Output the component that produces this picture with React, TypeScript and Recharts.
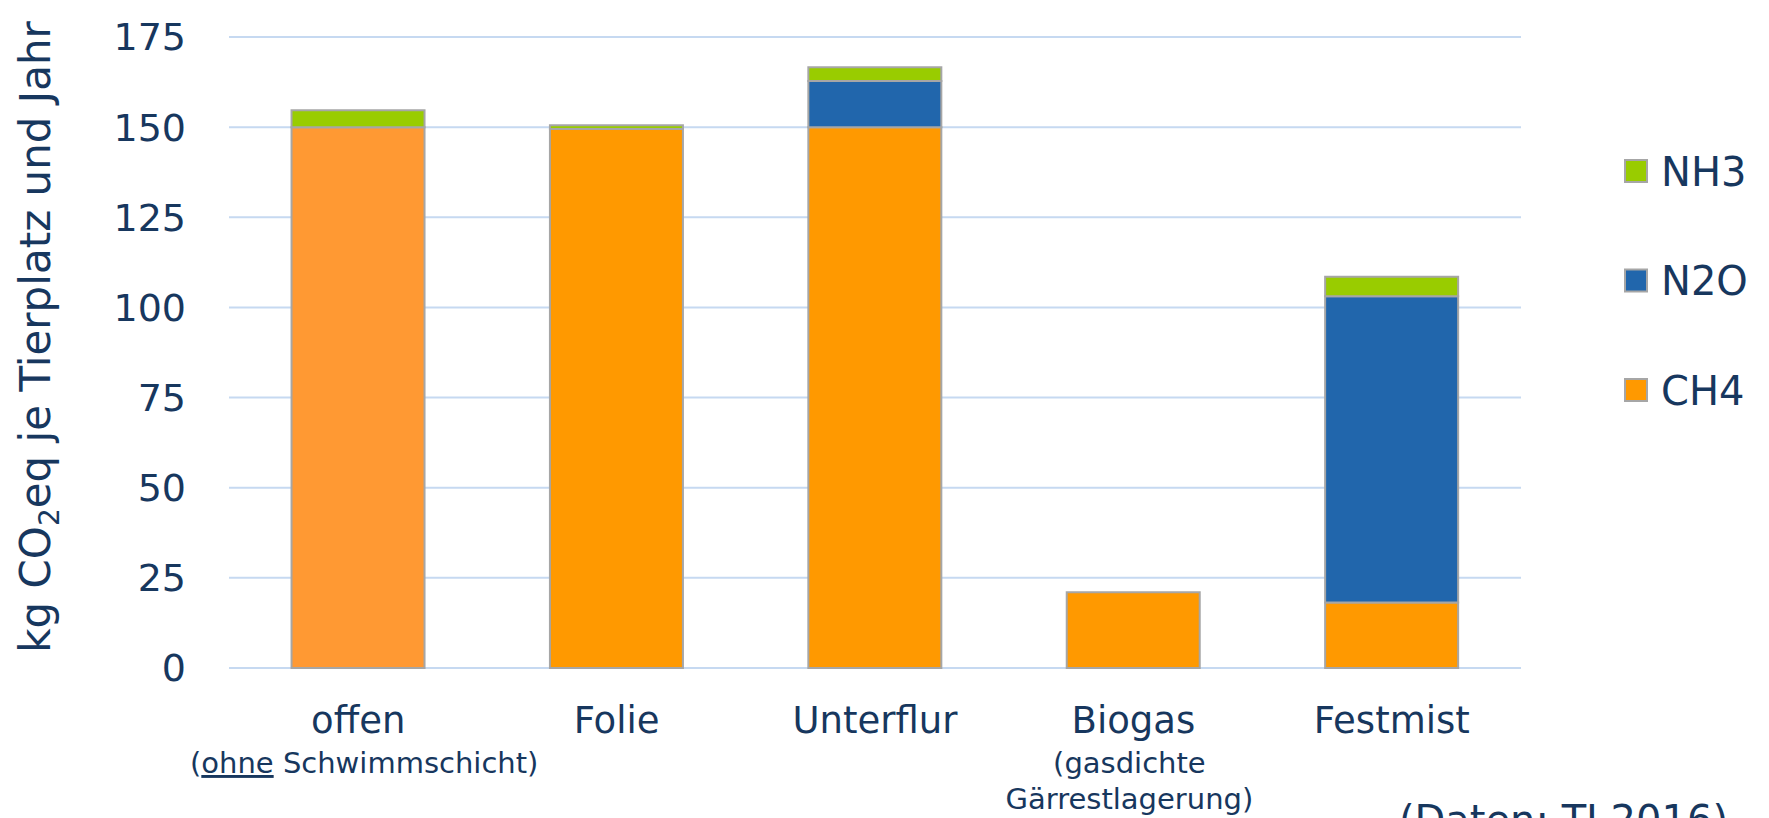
import React from 'react';
import { BarChart, Bar, XAxis, YAxis, CartesianGrid, Cell } from 'recharts';

const categories = ['offen', 'Folie', 'Unterflur', 'Biogas', 'Festmist'];
const ch4 = [150, 149.5, 150, 21, 18.2];
const n2o = [0, 0, 12.8, 0, 84.9];
const nh3 = [4.7, 1, 3.8, 0, 5.4];
const yTicks = [0, 25, 50, 75, 100, 125, 150, 175];

const TEXT = '#17375E';
const FONT = 'Verdana, "DejaVu Sans", sans-serif';
const COLORS = { CH4: '#FF9900', N2O: '#2166AC', NH3: '#99CC00' };
const legendItems = [
  { name: 'NH3', color: COLORS.NH3 },
  { name: 'N2O', color: COLORS.N2O },
  { name: 'CH4', color: COLORS.CH4 },
];

const data = categories.map((c, i) => ({ name: c, CH4: ch4[i], N2O: n2o[i], NH3: nh3[i] }));

const XTick = (props: any) => {
  const { x, y, payload } = props;
  const v = payload.value;
  return (
    <g fontFamily={FONT} fill={TEXT}>
      <text x={x} y={y + 65} textAnchor="middle" fontSize={37}>{v}</text>
      {v === 'offen' && (
        <text x={x + 6} y={y + 105} textAnchor="middle" fontSize={29}>
          (<tspan textDecoration="underline">ohne</tspan> Schwimmschicht)
        </text>
      )}
      {v === 'Biogas' && (
        <>
          <text x={x - 4} y={y + 105} textAnchor="middle" fontSize={29}>(gasdichte</text>
          <text x={x - 4} y={y + 141} textAnchor="middle" fontSize={29}>Gärrestlagerung)</text>
        </>
      )}
    </g>
  );
};

export default function App() {
  return (
    <div style={{ position: 'absolute', left: 0, top: 0, width: 1769, height: 818, overflow: 'hidden', background: '#fff' }}>
      <BarChart
        width={1769}
        height={818}
        data={data}
        margin={{ top: 37, right: 248, left: 0, bottom: 0 }}
        barCategoryGap="24.2%"
      >
        <CartesianGrid horizontal vertical={false} stroke="#C6D9F1" strokeWidth={2} />
        <XAxis
          dataKey="name"
          height={150}
          axisLine={false}
          tickLine={false}
          tickSize={0}
          tickMargin={0}
          tick={<XTick />}
          interval={0}
        />
        <YAxis
          width={229}
          domain={[0, 175]}
          ticks={yTicks}
          axisLine={false}
          tickLine={false}
          tickSize={0}
          tickMargin={43}
          tick={{ fill: TEXT, fontSize: 38, fontFamily: FONT }}
        />
        <Bar dataKey="CH4" stackId="a" fill={COLORS.CH4} stroke="#A6A6A6" strokeWidth={2} isAnimationActive={false}>
          {data.map((d, i) => (
            <Cell key={`ch4-${i}`} fill={i === 0 ? '#FF9933' : COLORS.CH4} />
          ))}
        </Bar>
        <Bar dataKey="N2O" stackId="a" fill={COLORS.N2O} stroke="#A6A6A6" strokeWidth={2} isAnimationActive={false} />
        <Bar dataKey="NH3" stackId="a" fill={COLORS.NH3} stroke="#A6A6A6" strokeWidth={2} isAnimationActive={false} />
      </BarChart>

      {/* axis title, legend and source note */}
      <svg width={1769} height={818} style={{ position: 'absolute', left: 0, top: 0, pointerEvents: 'none' }}>
        <text
          transform="translate(50,337) rotate(-90)"
          textAnchor="middle"
          fontFamily={FONT}
          fontSize={42}
          fill={TEXT}
        >
          kg CO<tspan fontSize={28} dy={9}>2</tspan><tspan dy={-9}>eq je Tierplatz und Jahr</tspan>
        </text>
        {legendItems.map((item, i) => {
          const cy = 171 + i * 109.5;
          return (
            <g key={item.name}>
              <rect x={1625} y={cy - 11} width={22} height={22} fill={item.color} stroke="#A6A6A6" strokeWidth={2} />
              <text x={1661} y={cy + 14.5} fontFamily={FONT} fontSize={40} fill={TEXT}>{item.name}</text>
            </g>
          );
        })}
        <text x={1728} y={834} textAnchor="end" fontFamily={FONT} fontSize={40} fill={TEXT}>(Daten: TI 2016)</text>
      </svg>
    </div>
  );
}
